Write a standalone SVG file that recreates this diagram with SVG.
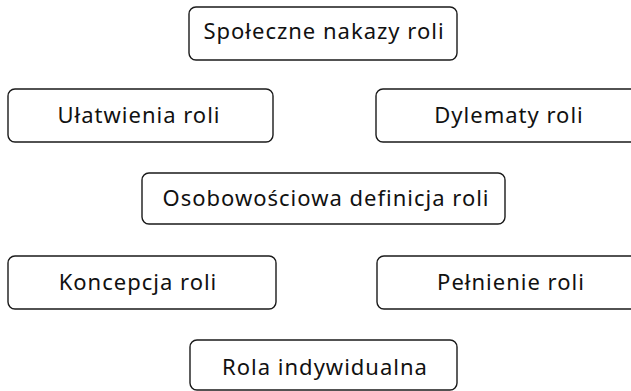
<svg xmlns="http://www.w3.org/2000/svg" width="631" height="391" viewBox="0 0 631 391">
<style>
.box{fill:#fff;stroke:#1a1a1a;stroke-width:1.4}
.lbl{font-family:"Noto Sans","DejaVu Sans",sans-serif;font-size:22px;letter-spacing:1px;fill:#111;text-anchor:middle}
</style>
<rect width="631" height="391" fill="#fff"/>
<g id="connectors"></g>
<g id="n-spoleczne"><rect class="box" x="189" y="7" width="268" height="53" rx="7"/><text class="lbl" x="324" y="39">Społeczne nakazy roli</text></g>
<g id="n-ulatwienia"><rect class="box" x="8" y="89" width="265" height="53" rx="7"/><text class="lbl" x="139" y="123">Ułatwienia roli</text></g>
<g id="n-dylematy"><rect class="box" x="376" y="89" width="270" height="53" rx="7"/><text class="lbl" x="509" y="123">Dylematy roli</text></g>
<g id="n-osobowosciowa"><rect class="box" x="142" y="173" width="363" height="51" rx="7"/><text class="lbl" x="326" y="206">Osobowościowa definicja roli</text></g>
<g id="n-koncepcja"><rect class="box" x="8" y="256" width="268" height="53" rx="7"/><text class="lbl" x="138" y="290">Koncepcja roli</text></g>
<g id="n-pelnienie"><rect class="box" x="377" y="256" width="270" height="53" rx="7"/><text class="lbl" x="511" y="290">Pełnienie roli</text></g>
<g id="n-rola"><rect class="box" x="190" y="340" width="267" height="50" rx="7"/><text class="lbl" x="325" y="375">Rola indywidualna</text></g>
</svg>
